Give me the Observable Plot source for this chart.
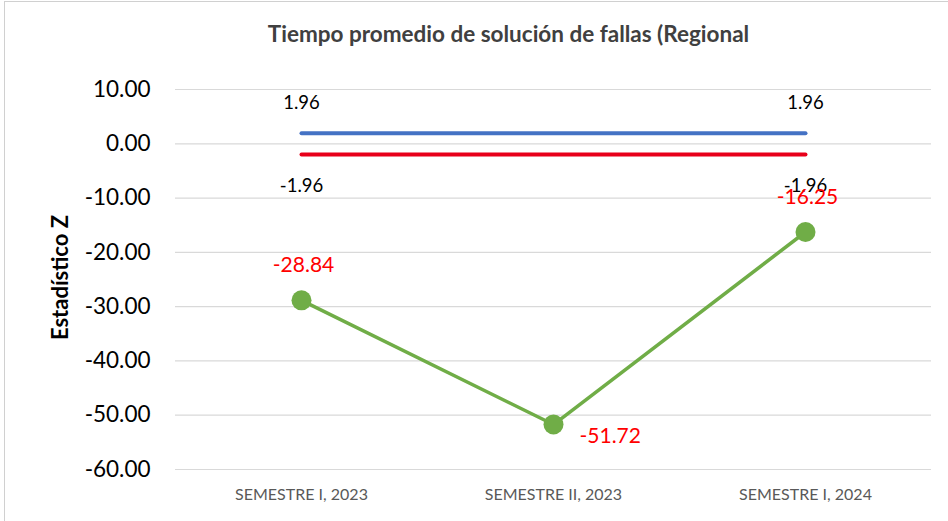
<!DOCTYPE html>
<html>
<head>
<meta charset="utf-8">
<script src="https://cdn.jsdelivr.net/npm/d3@7"></script>
<script src="https://cdn.jsdelivr.net/npm/@observablehq/plot@0.6"></script>
<style>
  html, body { margin: 0; padding: 0; background: #fff; }
  #wrap { position: relative; width: 948px; height: 521px; overflow: hidden; }
  #border { position: absolute; left: 4px; top: 1px; width: 960px; height: 540px; border: 1.5px solid #d0d0d0; box-sizing: border-box; }
  #chart { position: absolute; left: 0; top: 0; }
</style>
</head>
<body>
<div id="wrap"><div id="border"></div><div id="chart"></div></div>
<script>
const title = "Tiempo promedio de solución de fallas (Regional";
const yLabel = "Estadístico Z";
const categories = ["SEMESTRE I, 2023", "SEMESTRE II, 2023", "SEMESTRE I, 2024"];
const zValues = [-28.84, -51.72, -16.25];
const upperLimit = [1.96, 1.96, 1.96];
const lowerLimit = [-1.96, -1.96, -1.96];
const yTicks = [10, 0, -10, -20, -30, -40, -50, -60];

const zData = categories.map((c, i) => ({cat: c, z: zValues[i]}));
const upData = categories.map((c, i) => ({cat: c, v: upperLimit[i]}));
const loData = categories.map((c, i) => ({cat: c, v: lowerLimit[i]}));
const fmt = d => d.toFixed(2);

const font = "Lato, 'Open Sans', sans-serif";

const chart = Plot.plot({
  width: 948,
  height: 521,
  marginLeft: 175,
  marginRight: 17,
  marginTop: 89,
  marginBottom: 52,
  style: {fontFamily: font, background: "transparent"},
  x: {type: "point", domain: categories, padding: 0.5, label: null},
  y: {domain: [-60, 10], label: null},
  marks: [
    Plot.gridY(yTicks, {stroke: "#d9d9d9", strokeOpacity: 1, strokeWidth: 1.2}),
    Plot.axisY(yTicks, {tickSize: 0, tickPadding: 25, tickFormat: fmt, fontSize: 22.5, fill: "#000", label: null}),
    Plot.axisX({tickSize: 0, tickPadding: 19, fontSize: 16, fill: "#595959", label: null}),
    Plot.line(upData, {x: "cat", y: "v", stroke: "#4472c4", strokeWidth: 4}),
    Plot.line(loData, {x: "cat", y: "v", stroke: "#e8001a", strokeWidth: 4}),
    Plot.text([upData[0], upData[2]], {x: "cat", y: "v", text: d => d.v.toFixed(2), dy: -30, fontSize: 18.5, fill: "#000"}),
    Plot.text([loData[0], loData[2]], {x: "cat", y: "v", text: d => d.v.toFixed(2), dy: 32, fontSize: 18.5, fill: "#000"}),
    Plot.line(zData, {x: "cat", y: "z", stroke: "#70ad47", strokeWidth: 3.5}),
    Plot.dot(zData, {x: "cat", y: "z", r: 10, fill: "#70ad47", stroke: "none"}),
    Plot.text([zData[0], zData[2]], {x: "cat", y: "z", text: d => d.z.toFixed(2), dy: -35, dx: 2, fontSize: 21, fill: "#ff0000"}),
    Plot.text([zData[1]], {x: "cat", y: "z", text: d => d.z.toFixed(2), dx: 26, dy: 12, textAnchor: "start", fontSize: 21, fill: "#ff0000"}),
    Plot.text([title], {frameAnchor: "top", dx: -45, dy: -63, text: d => d, fontSize: 22.5, fontWeight: "bold", fill: "#404040"}),
    Plot.text([yLabel], {frameAnchor: "left", dx: -115, dy: -2, rotate: -90, textAnchor: "middle", text: d => d, fontSize: 22, fontWeight: "bold", fill: "#000"})
  ]
});
document.getElementById("chart").appendChild(chart);
</script>
</body>
</html>
